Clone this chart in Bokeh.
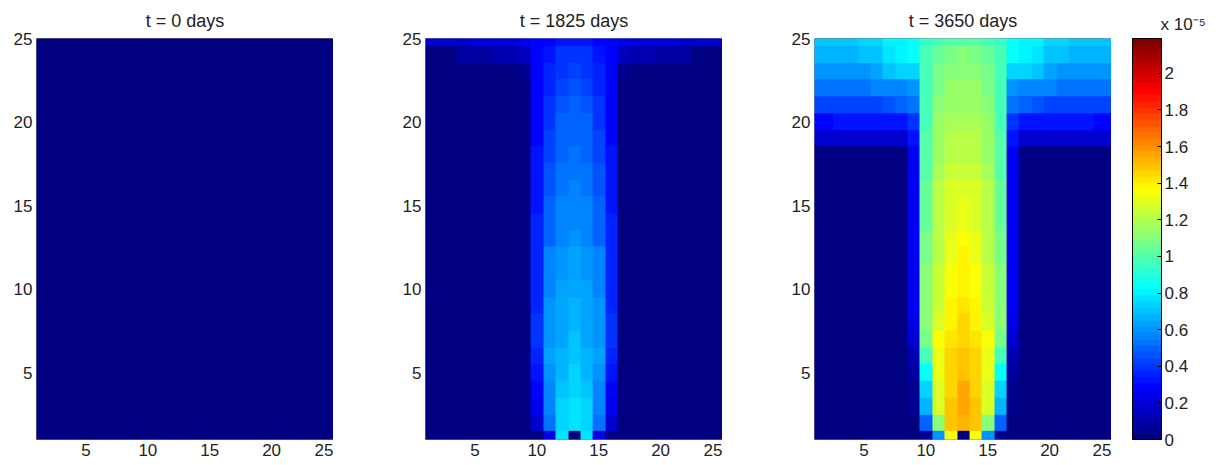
import numpy as np
from bokeh.plotting import figure
from bokeh.models import (LinearColorMapper, ColorBar, FixedTicker,
                          NumeralTickFormatter, Range1d)
from bokeh.layouts import row
from bokeh.embed import file_html
from bokeh.resources import INLINE

# ---------------- data ----------------
titles = ["t = 0 days", "t = 1825 days", "t = 3650 days"]
x_ticks = [5, 10, 15, 20, 25]
y_ticks = [5, 10, 15, 20, 25]
cbar_ticks = [0, 0.2, 0.4, 0.6, 0.8, 1, 1.2, 1.4, 1.6, 1.8, 2]
cbar_max = 2.19          # colour-bar top, in units of 1e-5
cbar_exponent = "x 10\u207b\u2075"

# concentrations in units of 1e-6, rows listed from y = 25 (top) down to y = 1
conc_0 = [[0.0] * 25 for _ in range(25)]

conc_1825 = [
    [1.9,1.9,1.9,1.9,2.1,2.1,2.1,2.1,2.4,2.8,3.0,3.3,3.4,3.3,3.0,2.8,2.4,2.1,2.1,2.1,2.1,1.9,1.9,1.9,1.9],
    [0.2,0.2,0.2,0.8,0.8,0.8,1.1,1.1,1.4,2.8,3.3,3.9,4.0,3.9,3.3,2.8,1.4,1.1,1.1,0.8,0.8,0.8,0.2,0.2,0.2],
    [0.1,0.1,0.1,0.1,0.1,0.1,0.1,0.1,0.6,2.8,3.6,4.1,4.4,4.1,3.6,2.8,0.6,0.1,0.1,0.1,0.1,0.1,0.1,0.1,0.1],
    [0,0,0,0,0,0,0,0,0.2,2.8,3.6,4.4,4.7,4.4,3.6,2.8,0.2,0,0,0,0,0,0,0,0],
    [0,0,0,0,0,0,0,0,0.2,2.9,3.9,4.7,4.9,4.7,3.9,2.9,0.2,0,0,0,0,0,0,0,0],
    [0,0,0,0,0,0,0,0,0.2,3.0,4.1,4.9,5.0,4.9,4.1,3.0,0.2,0,0,0,0,0,0,0,0],
    [0,0,0,0,0,0,0,0,0.2,3.0,4.3,5.0,5.1,5.0,4.3,3.0,0.2,0,0,0,0,0,0,0,0],
    [0,0,0,0,0,0,0,0,0.2,3.2,4.4,5.1,5.2,5.1,4.4,3.2,0.2,0,0,0,0,0,0,0,0],
    [0,0,0,0,0,0,0,0,0.2,3.3,4.5,5.2,5.4,5.2,4.5,3.3,0.2,0,0,0,0,0,0,0,0],
    [0,0,0,0,0,0,0,0,0.2,3.4,4.7,5.4,5.5,5.4,4.7,3.4,0.2,0,0,0,0,0,0,0,0],
    [0,0,0,0,0,0,0,0,0.2,3.4,4.9,5.5,5.6,5.5,4.9,3.4,0.2,0,0,0,0,0,0,0,0],
    [0,0,0,0,0,0,0,0,0.2,3.6,5.0,5.6,5.8,5.6,5.0,3.6,0.2,0,0,0,0,0,0,0,0],
    [0,0,0,0,0,0,0,0,0.2,3.6,5.1,5.8,5.9,5.8,5.1,3.6,0.2,0,0,0,0,0,0,0,0],
    [0,0,0,0,0,0,0,0,0.2,3.6,5.5,6.0,6.2,6.0,5.5,3.6,0.2,0,0,0,0,0,0,0,0],
    [0,0,0,0,0,0,0,0,0.2,3.6,5.8,6.0,6.3,6.0,5.8,3.6,0.2,0,0,0,0,0,0,0,0],
    [0,0,0,0,0,0,0,0,0.2,3.6,5.8,6.2,6.5,6.2,5.8,3.6,0.2,0,0,0,0,0,0,0,0],
    [0,0,0,0,0,0,0,0,0.2,3.7,5.9,6.3,6.6,6.3,5.9,3.7,0.2,0,0,0,0,0,0,0,0],
    [0,0,0,0,0,0,0,0,0.2,3.9,6.0,6.3,6.7,6.3,6.0,3.9,0.2,0,0,0,0,0,0,0,0],
    [0,0,0,0,0,0,0,0,0.2,3.9,6.0,6.5,6.9,6.5,6.0,3.9,0.2,0,0,0,0,0,0,0,0],
    [0,0,0,0,0,0,0,0,0.2,3.6,6.2,6.6,7.0,6.6,6.2,3.6,0.2,0,0,0,0,0,0,0,0],
    [0,0,0,0,0,0,0,0,0.2,3.3,6.0,6.7,7.2,6.7,6.0,3.3,0.2,0,0,0,0,0,0,0,0],
    [0,0,0,0,0,0,0,0,0.2,2.8,5.8,6.9,7.4,6.9,5.8,2.8,0.2,0,0,0,0,0,0,0,0],
    [0,0,0,0,0,0,0,0,0.1,2.5,5.8,7.2,7.7,7.2,5.8,2.5,0.1,0,0,0,0,0,0,0,0],
    [0,0,0,0,0,0,0,0,0.1,1.9,5.2,7.4,7.7,7.4,5.2,1.9,0.1,0,0,0,0,0,0,0,0],
    [0,0,0,0,0,0,0,0,0.0,0.3,2.2,7.7,0.2,7.7,2.2,0.3,0.0,0,0,0,0,0,0,0,0],
]

conc_3650 = [
    [7.1,7.1,7.1,7.1,7.4,7.4,8.2,8.2,8.5,9.4,9.6,10.0,10.0,10.0,9.6,9.4,8.5,8.2,8.2,7.4,7.4,7.1,7.1,7.1,7.1],
    [6.8,6.8,6.8,6.8,7.1,7.1,7.6,8.0,8.3,9.7,10.3,10.7,11.0,10.7,10.3,9.7,8.3,8.0,7.6,7.1,7.1,6.8,6.8,6.8,6.8],
    [6.0,6.0,6.0,6.0,6.0,6.3,6.9,7.4,7.5,9.7,10.7,11.0,11.0,11.0,10.7,9.7,7.5,7.4,6.9,6.3,6.0,6.0,6.0,6.0,6.0],
    [5.2,5.2,5.2,5.2,5.2,5.5,5.5,5.8,6.0,9.7,10.7,11.3,11.3,11.3,10.7,9.7,6.0,5.8,5.5,5.5,5.2,5.2,5.2,5.2,5.2],
    [4.4,4.4,4.4,4.4,4.4,4.4,4.7,5.0,5.2,9.8,11.0,11.5,11.6,11.5,11.0,9.8,5.2,5.0,4.7,4.4,4.4,4.4,4.4,4.4,4.4],
    [3.0,3.0,3.3,3.3,3.3,3.3,3.3,3.3,4.1,9.9,11.3,11.8,11.9,11.8,11.3,9.9,4.1,3.3,3.3,3.3,3.3,3.3,3.3,3.0,3.0],
    [2.0,2.0,2.0,2.0,2.0,2.0,2.0,2.0,3.3,10.0,11.4,12.0,12.1,12.0,11.4,10.0,3.3,2.0,2.0,2.0,2.0,2.0,2.0,2.0,2.0],
    [0,0,0,0,0,0,0,0,2.5,10.0,11.6,12.2,12.3,12.2,11.6,10.0,2.5,0,0,0,0,0,0,0,0],
    [0,0,0,0,0,0,0,0,2.5,10.2,11.8,12.5,12.6,12.5,11.8,10.2,2.5,0,0,0,0,0,0,0,0],
    [0,0,0,0,0,0,0,0,2.6,10.4,12.0,12.7,12.9,12.7,12.0,10.4,2.6,0,0,0,0,0,0,0,0],
    [0,0,0,0,0,0,0,0,2.6,10.5,12.0,12.9,13.1,12.9,12.0,10.5,2.6,0,0,0,0,0,0,0,0],
    [0,0,0,0,0,0,0,0,2.6,10.6,12.1,13.0,13.3,13.0,12.1,10.6,2.6,0,0,0,0,0,0,0,0],
    [0,0,0,0,0,0,0,0,2.6,10.7,12.2,13.2,13.5,13.2,12.2,10.7,2.6,0,0,0,0,0,0,0,0],
    [0,0,0,0,0,0,0,0,2.6,10.8,12.3,13.3,13.7,13.3,12.3,10.8,2.6,0,0,0,0,0,0,0,0],
    [0,0,0,0,0,0,0,0,2.6,11.0,12.4,13.5,13.8,13.5,12.4,11.0,2.6,0,0,0,0,0,0,0,0],
    [0,0,0,0,0,0,0,0,2.5,11.0,12.5,13.6,14.0,13.6,12.5,11.0,2.5,0,0,0,0,0,0,0,0],
    [0,0,0,0,0,0,0,0,2.4,11.0,12.6,13.8,14.2,13.8,12.6,11.0,2.4,0,0,0,0,0,0,0,0],
    [0,0,0,0,0,0,0,0,2.2,11.0,13.0,14.0,14.6,14.0,13.0,11.0,2.2,0,0,0,0,0,0,0,0],
    [0,0,0,0,0,0,0,0,1.9,10.8,13.5,14.2,14.6,14.2,13.5,10.8,1.9,0,0,0,0,0,0,0,0],
    [0,0,0,0,0,0,0,0,1.1,9.9,13.3,14.6,15.0,14.6,13.3,9.9,1.1,0,0,0,0,0,0,0,0],
    [0,0,0,0,0,0,0,0,0.8,8.3,13.2,14.6,15.0,14.6,13.2,8.3,0.8,0,0,0,0,0,0,0,0],
    [0,0,0,0,0,0,0,0,0.6,7.2,13.0,14.6,15.4,14.6,13.0,7.2,0.6,0,0,0,0,0,0,0,0],
    [0,0,0,0,0,0,0,0,0.5,6.6,12.7,15.0,15.4,15.0,12.7,6.6,0.5,0,0,0,0,0,0,0,0],
    [0,0,0,0,0,0,0,0,0.3,5.0,11.0,14.8,15.2,14.8,11.0,5.0,0.3,0,0,0,0,0,0,0,0],
    [0,0,0,0,0,0,0,0,0.0,0.5,6.0,13.5,0.3,13.5,6.0,0.5,0.0,0,0,0,0,0,0,0,0],
]

grids = [conc_0, conc_1825, conc_3650]

# ---------------- styling ----------------
FONT = "Liberation Sans"
TXT = "#222222"


def jet(n=64):
    cols = []
    for i in range(n):
        t = i / (n - 1)
        r = min(max(1.5 - abs(4 * t - 3), 0), 1)
        g = min(max(1.5 - abs(4 * t - 2), 0), 1)
        b = min(max(1.5 - abs(4 * t - 1), 0), 1)
        cols.append("#%02x%02x%02x" % (round(r * 255), round(g * 255), round(b * 255)))
    return cols


mapper = LinearColorMapper(palette=jet(64), low=0, high=cbar_max)

FW, FH = 297, 401
lefts = [36, 92, 92]

figs = []
for k, (grid, title) in enumerate(zip(grids, titles)):
    arr = np.array(grid[::-1], dtype=float) / 10.0  # -> units of 1e-5, row 0 = y=1
    p = figure(frame_width=FW, frame_height=FH,
               min_border_left=lefts[k], min_border_right=0,
               min_border_top=38, min_border_bottom=26,
               x_range=Range1d(1, 25), y_range=Range1d(1, 25),
               output_backend="svg", toolbar_location=None, title=title)
    p.image(image=[arr], x=0.5, y=0.5, dw=25, dh=25, color_mapper=mapper)
    p.grid.visible = False
    p.outline_line_color = "#8c8c8c"
    p.title.align = "center"
    p.title.text_font = FONT
    p.title.text_font_size = "18px"
    p.title.text_font_style = "normal"
    p.title.text_color = TXT
    p.title.standoff = 16
    for ax, ticks in ((p.xaxis[0], x_ticks), (p.yaxis[0], y_ticks)):
        ax.ticker = FixedTicker(ticks=ticks)
        ax.major_tick_in = 0
        ax.major_tick_out = 0
        ax.minor_tick_line_color = None
        ax.axis_line_color = None
        ax.major_label_text_font = FONT
        ax.major_label_text_font_size = "17px"
        ax.major_label_text_color = TXT
        ax.major_label_standoff = 4
    figs.append(p)

# colour-bar strip: a 1-px-wide frame, colour bar in its right panel,
# the exponent as its (left-aligned, offset) title
pc = figure(frame_width=1, frame_height=FH,
            min_border_left=0, min_border_right=107,
            min_border_top=38, min_border_bottom=26,
            x_range=Range1d(0, 1), y_range=Range1d(0, 1),
            x_axis_location=None, y_axis_location=None,
            output_backend="svg", toolbar_location=None, title=cbar_exponent)
pc.grid.visible = False
pc.outline_line_color = None
pc.title.align = "left"
pc.title.offset = 49
pc.title.text_font = FONT
pc.title.text_font_size = "17px"
pc.title.text_font_style = "normal"
pc.title.text_color = TXT
pc.title.standoff = 9

cb = ColorBar(color_mapper=mapper, width=29, height=FH,
              ticker=FixedTicker(ticks=cbar_ticks),
              formatter=NumeralTickFormatter(format="0.[0]"),
              major_label_text_font=FONT, major_label_text_font_size="17px",
              major_label_text_color=TXT, label_standoff=3,
              major_tick_in=4, major_tick_out=0, major_tick_line_color="#000000",
              bar_line_color="#000000", padding=0, margin=0,
              location=(20, 0))
pc.add_layout(cb, "right")

layout = row(*figs, pc)
open("out.html", "w").write(file_html(layout, INLINE))
